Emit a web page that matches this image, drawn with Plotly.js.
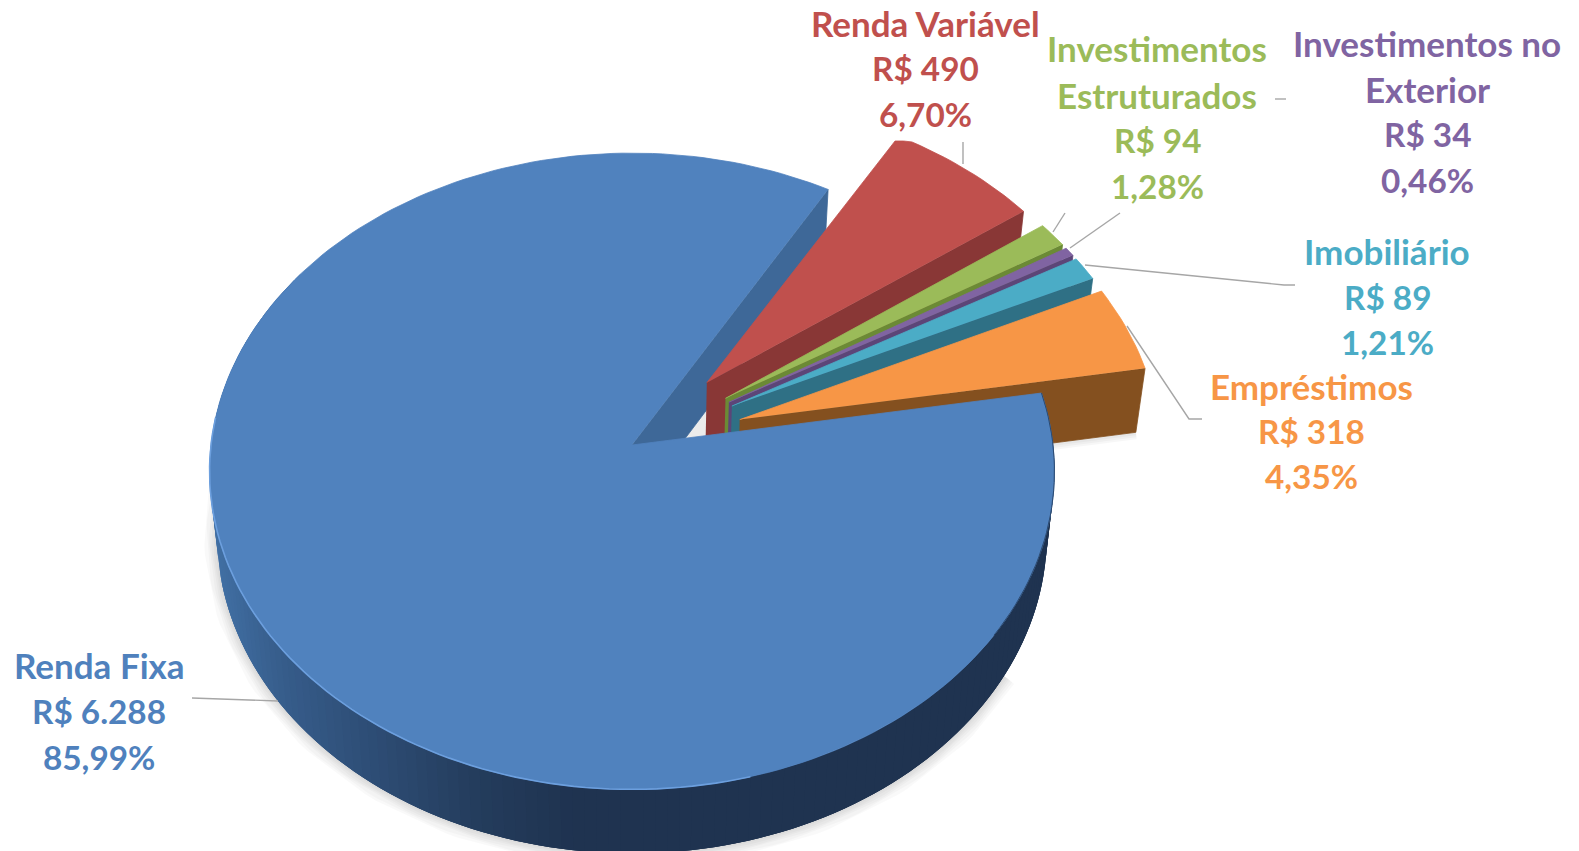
<!DOCTYPE html>
<html>
<head>
<meta charset="utf-8">
<script src="https://cdn.plot.ly/plotly-3.0.1.min.js"></script>
<style>html,body{margin:0;padding:0;background:#fff;overflow:hidden}#chart{width:1579px;height:851px}</style>
</head>
<body>
<div id="chart"></div>
<script>
// ---- Data ----
const categories = ['Renda Fixa','Renda Variável','Investimentos Estruturados','Investimentos no Exterior','Imobiliário','Empréstimos'];
const values = [6288,490,94,34,89,318];
const valueLabels = ['R$ 6.288','R$ 490','R$ 94','R$ 34','R$ 89','R$ 318'];
const percentLabels = ['85,99%','6,70%','1,28%','0,46%','1,21%','4,35%'];
const nameLines = [['Renda Fixa'],['Renda Variável'],['Investimentos','Estruturados'],['Investimentos no','Exterior'],['Imobiliário'],['Empréstimos']];

// ---- Styles ----
const topColors  = ['#5082be','#c0504d','#9bbb59','#8064a2','#4bacc6','#f79646'];
const wallColors = ['#3e6898','#893736','#6b8a35','#5c4578','#2f7085','#84501f'];
const labelColors= ['#4f81bd','#c0504d','#9bbb59','#8064a2','#4bacc6','#f79646'];
const wallStops = [[213,[66,113,166]],[300,[54,92,138]],[400,[45,76,116]],[500,[36,61,93]],[600,[31,51,80]],[1100,[31,51,80]]];
const labelCenterX = [99,925,1157,1427,1387,1311];
const labelLineY = [[665,711,757],[23,68,114],[48,95,140,186],[43,89,134,180],[251,297,342],[386,431,476]];
const leaders = [
  [[192,278],[698,701]],
  [[963,963],[142,164]],
  [[1275,1286],[99,99]],
  [[1053,1065],[232,213]],
  [[1070,1120],[248,213]],
  [[1085,1284,1295],[265,285,285]],
  [[1127,1189,1202],[326,419,419]]
];

// ---- Pie geometry (perspective projection of a tilted disc) ----
const CX=632, CY=445, A=421, B=316, K=0.0825, EXPLODE=0.27, START=80.4, TOPCLIP=141, DEPTH=64;
const total = values.reduce((a,b)=>a+b,0);
const rad = d=>d*Math.PI/180;
function topPt(u,v){const w=1+K*v;return [CX+A*u/w, CY-B*v/w];}
function botPt(u,v){const p=topPt(u,v);return [CX+(p[0]-CX)*0.982, p[1]+DEPTH];}
function disc(th,off){return [off[0]+Math.sin(rad(th)), off[1]+Math.cos(rad(th))];}
function arc(t1,t2,off,fn){const n=Math.max(2,Math.ceil(Math.abs(t2-t1)/1.5));const r=[];
  for(let i=0;i<=n;i++){const t=t1+(t2-t1)*i/n;const d=disc(t,off);r.push(fn(d[0],d[1]));}return r;}
function poly(pts,color,clip,lw){
  return {type:'scatter',mode:'lines',x:pts.map(p=>p[0]),y:pts.map(p=>clip?Math.max(p[1],TOPCLIP):p[1]),fill:'toself',fillcolor:color,
    line:{color:color,width:lw===undefined?0.8:lw},hoverinfo:'skip',showlegend:false};
}
function outline(pts,color,w){
  return {type:'scatter',mode:'lines',x:pts.map(p=>p[0]),y:pts.map(p=>p[1]),line:{color:color,width:w},hoverinfo:'skip',showlegend:false};
}
function wallColor(x){
  for(let i=0;i<wallStops.length-1;i++){const a=wallStops[i],b=wallStops[i+1];
    if(x<=b[0]){const f=Math.max(0,(x-a[0])/(b[0]-a[0]));
      return 'rgb('+a[1].map((c,j)=>Math.round(c+(b[1][j]-c)*f)).join(',')+')';}}
  return 'rgb(31,51,80)';
}

// angles for each slice (clockwise from north)
const spans=[];let cur=START;
values.forEach(v=>{const s=v/total*360;spans.push([cur,cur+s]);cur+=s;});

const traces=[];
// soft shadows
const off0=[0,0];
const blueBot=arc(spans[0][0]+40,spans[0][1]-40,off0,botPt);
[26,21,16,12,8,4].forEach(w=>traces.push(outline(blueBot,'rgba(0,0,0,0.022)',w)));
for(let i=5;i<6;i++){
  const mid=(spans[i][0]+spans[i][1])/2%360, off=[EXPLODE*Math.sin(rad(mid)),EXPLODE*Math.cos(rad(mid))];
  const end=disc(spans[i][1],off);
  const low=[botPt(off[0],off[1]),botPt(end[0],end[1])];
  [14,10,6].forEach(w=>traces.push(outline(low,'rgba(0,0,0,0.03)',w)));
}
// grey floor seen through the notch
{const m=(spans[1][0]+spans[1][1])/2,off=[EXPLODE*Math.sin(rad(m)),EXPLODE*Math.cos(rad(m))];
 traces.push(poly([botPt(off[0],off[1]),botPt(0,0)].concat(arc(-20,20,off0,botPt)),'rgba(0,0,0,0.08)'));}

// far radial wall of the big slice
{const c=disc(spans[0][1],off0);
 traces.push(poly([topPt(0,0),topPt(c[0],c[1]),botPt(c[0],c[1]),botPt(0,0)],wallColors[0]));}

// exploded slices, far to near
for(let i=1;i<values.length;i++){
  const [t1,t2]=spans[i];const mid=(t1+t2)/2%360;
  const a1=t1%360,a2=t2%360;
  const off=[EXPLODE*Math.sin(rad(mid)),EXPLODE*Math.cos(rad(mid))];
  const e=disc(a2,off);
  traces.push(poly([topPt(off[0],off[1]),topPt(e[0],e[1]),botPt(e[0],e[1]),botPt(off[0],off[1])],wallColors[i]));
  traces.push(poly([topPt(off[0],off[1])].concat(arc(a1,a2,off,topPt)),topColors[i],true));
}

// big slice: outer wall with a left-to-right shading; pieces overlap so no seams show
const STEP=1.5;
for(let t=300;t>=spans[0][0];t-=STEP){
  const tEnd=t+STEP*3;
  const up=arc(t,tEnd,off0,topPt), low=arc(t,tEnd,off0,botPt).reverse();
  traces.push(poly(up.concat(low),wallColor(topPt(...disc(t,off0))[0]),false,0));
}
// big slice: top face
traces.push(poly([topPt(0,0)].concat(arc(spans[0][0],spans[0][1],off0,topPt)),topColors[0]));
// rim light on the left, dark hairline on the right
traces.push(outline(arc(165,275,off0,topPt),'#6c9fde',1.6));
traces.push(outline(arc(spans[0][0],125,off0,topPt),'#2c4a70',1));

// leader lines
leaders.forEach(l=>traces.push({type:'scatter',mode:'lines',x:l[0],y:l[1],line:{color:'#a6a6a6',width:1.4},hoverinfo:'skip',showlegend:false}));

// labels
const annotations=[];
categories.forEach((c,i)=>{
  const names=nameLines[i], lines=names.concat([valueLabels[i],percentLabels[i]]);
  lines.forEach((t,j)=>annotations.push({x:labelCenterX[i],y:labelLineY[i][j],xref:'x',yref:'y',text:t,showarrow:false,
    xanchor:'center',yanchor:'middle',font:{family:'Lato, "Open Sans", sans-serif',size:j<names.length?35:33.3,weight:700,color:labelColors[i]}}));
});

Plotly.newPlot('chart',traces,{
  width:1579,height:851,margin:{l:0,r:0,t:0,b:0},paper_bgcolor:'#fff',plot_bgcolor:'#fff',showlegend:false,
  xaxis:{range:[0,1579],visible:false,fixedrange:true},
  yaxis:{range:[851,0],visible:false,fixedrange:true},
  annotations
},{displayModeBar:false,staticPlot:true});
</script>
</body>
</html>
